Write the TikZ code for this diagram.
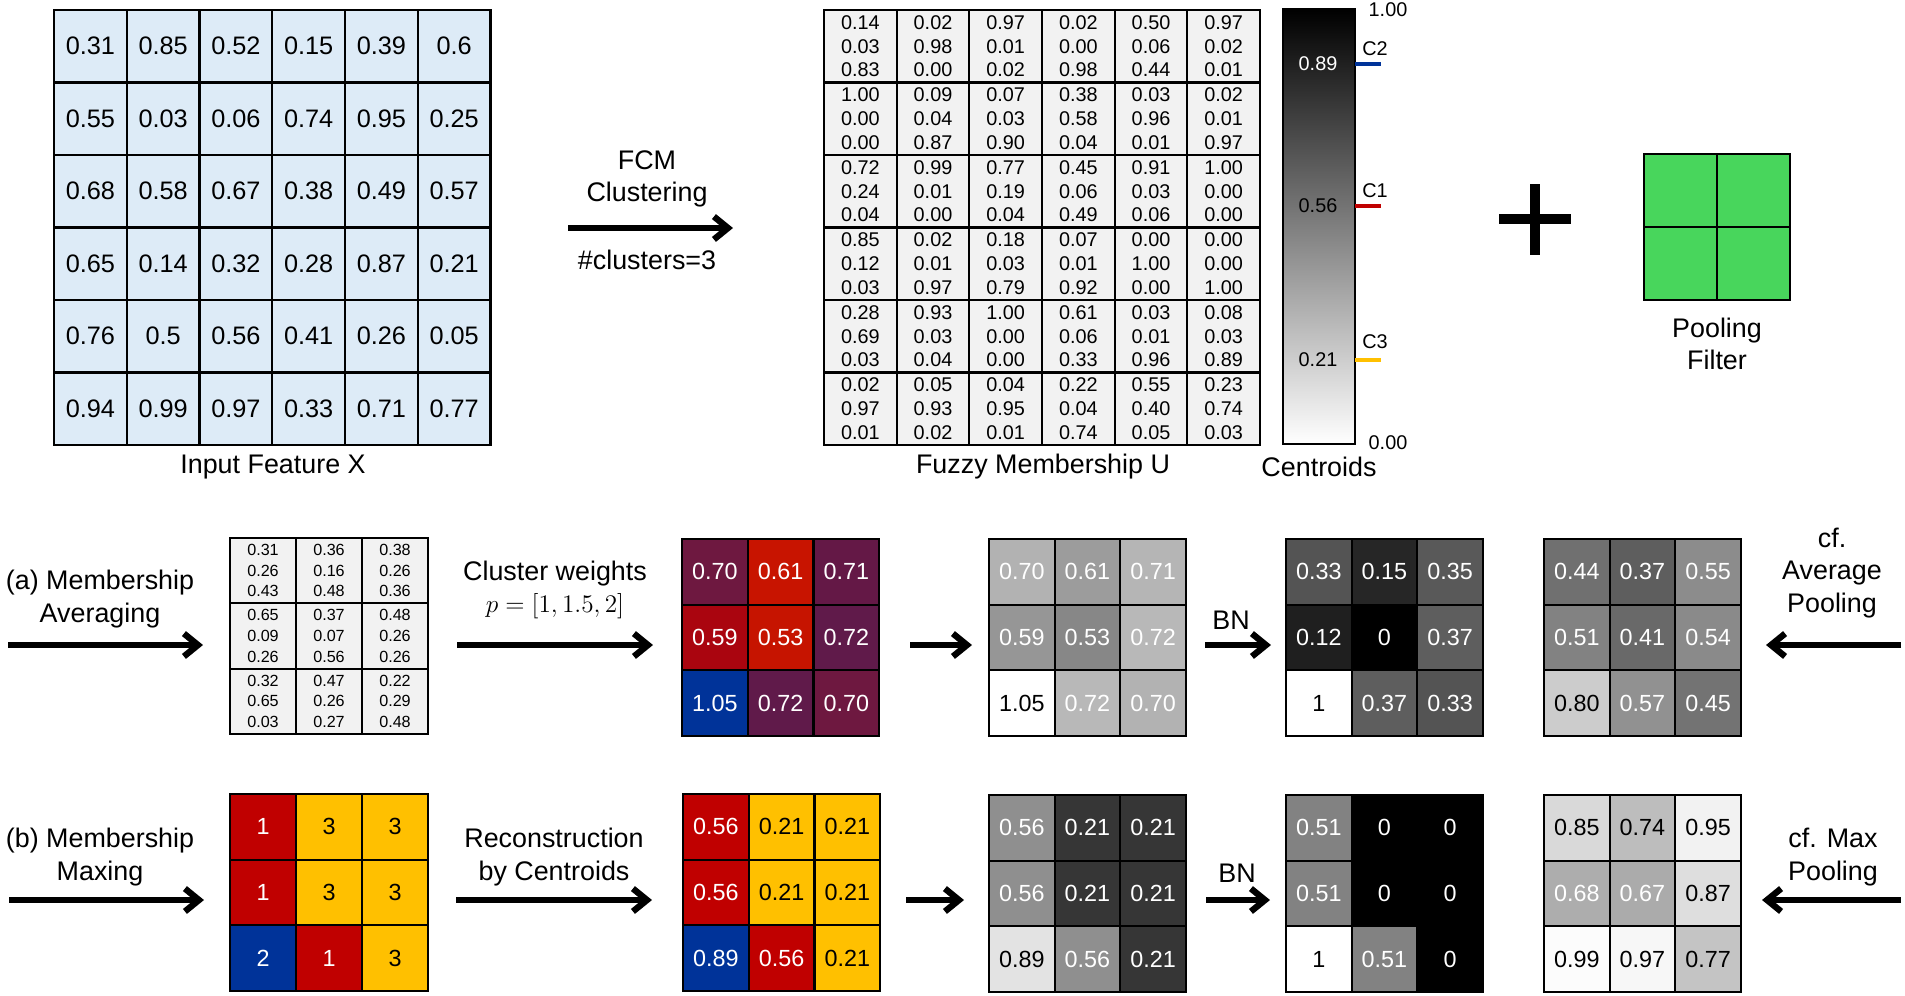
\documentclass[tikz,border=0pt]{standalone}
\usepackage{xcolor}
\usepackage{amsmath}
\usepackage{fontspec}
\setmainfont{Liberation Sans}
\usetikzlibrary{arrows.meta}

\definecolor{xblue}{RGB}{221,235,247}
\definecolor{ugray}{RGB}{242,242,242}
\definecolor{clu1}{RGB}{192,0,0}
\definecolor{clu2}{RGB}{0,51,153}
\definecolor{clu3}{RGB}{255,192,0}
\colorlet{txt1}{white}
\colorlet{txt2}{white}
\colorlet{txt3}{black}
\definecolor{poolgreen}{RGB}{72,214,92}
\definecolor{mixa}{RGB}{110,24,64}
\definecolor{mixb}{RGB}{200,20,0}
\definecolor{mixc}{RGB}{100,24,70}
\definecolor{mixd}{RGB}{170,5,15}
\definecolor{mixe}{RGB}{198,20,0}
\definecolor{mixf}{RGB}{96,26,74}

\tikzset{
  lbl/.style={font=\fontsize{15.3}{18.5}\selectfont, align=center, inner sep=0pt},
  small/.style={font=\fontsize{11.3}{13}\selectfont, inner sep=0pt},
  xcell/.style={draw, line width=1.2pt, fill=xblue, minimum width=1.455cm, minimum height=1.45cm, inner sep=0pt, font=\fontsize{14.4}{16}\selectfont},
  ucell/.style={draw, line width=1.2pt, fill=ugray, minimum width=1.453cm, minimum height=1.45cm, inner sep=0pt, align=center, font=\fontsize{11.3}{13.6}\selectfont},
  mcell/.style={draw, line width=1.2pt, fill=ugray, minimum width=1.32cm, minimum height=1.307cm, inner sep=0pt, align=center, font=\fontsize{9.2}{11.7}\selectfont},
  gcell/.style={draw, line width=1.2pt, minimum width=1.312cm, minimum height=1.314cm, inner sep=0pt, font=\fontsize{13.3}{15}\selectfont},
  fcell/.style={draw, line width=1.3pt, fill=poolgreen, minimum size=1.46cm, inner sep=0pt},
  arr/.style={line width=3.6pt, -{Straight Barb[length=8pt,width=13pt]}},
  tick/.style={line width=2.3pt}
}

\begin{document}
\begin{tikzpicture}[x=0.02cm, y=-0.02cm]
\useasboundingbox (0,0) rectangle (1905,995);

\foreach \row [count=\ri from 0] in {{0.31,0.85,0.52,0.15,0.39,0.6},{0.55,0.03,0.06,0.74,0.95,0.25},{0.68,0.58,0.67,0.38,0.49,0.57},{0.65,0.14,0.32,0.28,0.87,0.21},{0.76,0.5,0.56,0.41,0.26,0.05},{0.94,0.99,0.97,0.33,0.71,0.77}}
  \foreach \v [count=\ci from 0] in \row
    \node[xcell] (x-\ri-\ci) at ({54+72.75*(\ci+0.5)},{10+72.5*(\ri+0.5)}) {\v};
\node[lbl] (inX) at (273,467) {Input Feature X};

\foreach \row [count=\ri from 0] in {{0.14/0.03/0.83,0.02/0.98/0.00,0.97/0.01/0.02,0.02/0.00/0.98,0.50/0.06/0.44,0.97/0.02/0.01},
  {1.00/0.00/0.00,0.09/0.04/0.87,0.07/0.03/0.90,0.38/0.58/0.04,0.03/0.96/0.01,0.02/0.01/0.97},
  {0.72/0.24/0.04,0.99/0.01/0.00,0.77/0.19/0.04,0.45/0.06/0.49,0.91/0.03/0.06,1.00/0.00/0.00},
  {0.85/0.12/0.03,0.02/0.01/0.97,0.18/0.03/0.79,0.07/0.01/0.92,0.00/1.00/0.00,0.00/0.00/1.00},
  {0.28/0.69/0.03,0.93/0.03/0.04,1.00/0.00/0.00,0.61/0.06/0.33,0.03/0.01/0.96,0.08/0.03/0.89},
  {0.02/0.97/0.01,0.05/0.93/0.02,0.04/0.95/0.01,0.22/0.04/0.74,0.55/0.40/0.05,0.23/0.74/0.03}}
  \foreach \ua/\ub/\uc [count=\ci from 0] in \row
    \node[ucell] (u-\ri-\ci) at ({824+72.67*(\ci+0.5)},{10+72.5*(\ri+0.5)}) {\ua\\\ub\\\uc};
\node[lbl] (inU) at (1043,467) {Fuzzy Membership U};

\node[draw, line width=1.2pt, top color=black, bottom color=white, minimum width=1.44cm, minimum height=8.7cm, inner sep=0pt] (cbar) at (1319,226.5) {};
\node[small] (cmax) at (1388,10) {1.00};
\node[small] (cmin) at (1388,443) {0.00};
\coordinate (t2) at (1355,64);
\coordinate (t1) at (1355,206);
\coordinate (t3) at (1355,360);
\draw[tick, clu2] (t2) -- ++(26,0);
\draw[tick, clu1] (t1) -- ++(26,0);
\draw[tick, clu3] (t3) -- ++(26,0);
\node[small] (n2) at (1375,49) {C2};
\node[small] (n1) at (1375,191) {C1};
\node[small] (n3) at (1375,342) {C3};
\node[small, text=white] (v2) at (1318,64) {0.89};
\node[small] (v1) at (1318,206) {0.56};
\node[small] (v3) at (1318,360) {0.21};
\node[lbl] (cent) at (1319,467) {Centroids};

\draw[line width=0.21cm] (1499,219) -- (1571,219);
\draw[line width=0.21cm] (1535,184) -- (1535,255);

\foreach \i in {0,1}
  \foreach \j in {0,1}
    \node[fcell] (f-\i-\j) at ({1644+73*(\j+0.5)},{154+73*(\i+0.5)}) {};
\node[lbl] (filt) at (1717,344) {Pooling\\Filter};

\node[lbl] (fcm) at (647,179) {FCM\\Clustering};
\node[lbl] (ncl) at (647,260) {\#clusters=3};
\coordinate (fcmS) at (568,228);
\coordinate (fcmE) at (733,228);
\draw[arr] (fcmS) -- (fcmE);

\node[lbl] (lblA) at (100,599) {(a) Membership\\Averaging};
\node[lbl] (lblW) at (555,590) {Cluster weights\\$p=[1,1.5,2]$};
\node[lbl] (bnA) at (1231,620) {BN};
\node[lbl] (cfA) at (1832,573) {cf.\\Average\\Pooling};
\node[lbl] (lblB) at (100,857) {(b) Membership\\Maxing};
\node[lbl] (lblR) at (554,857) {Reconstruction\\by Centroids};
\node[lbl] (bnB) at (1237,873) {BN};
\node[lbl] (cfB) at (1833,857) {cf. Max\\Pooling};

\foreach \ua/\ub/\uc [count=\i from 0] in {0.31/0.26/0.43,0.36/0.16/0.48,0.38/0.26/0.36,0.65/0.09/0.26,0.37/0.07/0.56,0.48/0.26/0.26,0.32/0.65/0.03,0.47/0.26/0.27,0.22/0.29/0.48} {
  \pgfmathtruncatemacro\ri{\i/3}
  \pgfmathtruncatemacro\ci{mod(\i,3)}
  \node[mcell] (m-\ri-\ci) at ({230+66*(\ci+0.5)},{538+65.3*(\ri+0.5)}) {\ua\\\ub\\\uc};
}

\foreach \v/\f [count=\i from 0] in {0.70/mixa,0.61/mixb,0.71/mixc,0.59/mixd,0.53/mixe,0.72/mixf,1.05/clu2,0.72/mixf,0.70/mixa} {
  \pgfmathtruncatemacro\ri{\i/3}
  \pgfmathtruncatemacro\ci{mod(\i,3)}
  \node[gcell, fill=\f, text=white] (w-\ri-\ci) at ({682+65.7*(\ci+0.5)},{539+65.7*(\ri+0.5)}) {\v};
}

\foreach \k [count=\i from 0] in {1,3,3,1,3,3,2,1,3} {
  \pgfmathtruncatemacro\ri{\i/3}
  \pgfmathtruncatemacro\ci{mod(\i,3)}
  \node[gcell, fill=clu\k, text=txt\k] (k-\ri-\ci) at ({230+66*(\ci+0.5)},{794+65.7*(\ri+0.5)}) {\k};
}

\foreach \k/\v [count=\i from 0] in {1/0.56,3/0.21,3/0.21,1/0.56,3/0.21,3/0.21,2/0.89,1/0.56,3/0.21} {
  \pgfmathtruncatemacro\ri{\i/3}
  \pgfmathtruncatemacro\ci{mod(\i,3)}
  \node[gcell, fill=clu\k, text=txt\k] (r-\ri-\ci) at ({683+65.7*(\ci+0.5)},{794+65.7*(\ri+0.5)}) {\v};
}

\foreach \nm/\xo/\yo/\vals in {ga/989/539/{0.70,0.61,0.71,0.59,0.53,0.72,1.05,0.72,0.70},
    gaBN/1286/539/{0.33,0.15,0.35,0.12,0,0.37,1,0.37,0.33},
    gaAvg/1544/539/{0.44,0.37,0.55,0.51,0.41,0.54,0.80,0.57,0.45},
    gb/989/795/{0.56,0.21,0.21,0.56,0.21,0.21,0.89,0.56,0.21},
    gbBN/1286/795/{0.51,0,0,0.51,0,0,1,0.51,0},
    gbMax/1544/795/{0.85,0.74,0.95,0.68,0.67,0.87,0.99,0.97,0.77}}
  \foreach \v [count=\i from 0] in \vals {
    \pgfmathtruncatemacro\ri{\i/3}
    \pgfmathtruncatemacro\ci{mod(\i,3)}
    \pgfmathsetmacro\g{min(100,100*\v)}
    \ifdim\v pt<0.73pt \def\tc{white}\else\def\tc{black}\fi
    \node[gcell, fill=white!\g!black, text=\tc] (\nm-\ri-\ci) at ({\xo+65.6*(\ci+0.5)},{\yo+65.7*(\ri+0.5)}) {\v};
  }

\coordinate (a0s) at (8,645);    \coordinate (a0e) at (203,645);
\coordinate (a1s) at (457,645);  \coordinate (a1e) at (653,645);
\coordinate (a2s) at (910,645);  \coordinate (a2e) at (972,645);
\coordinate (a3s) at (1205,645); \coordinate (a3e) at (1271,645);
\coordinate (a4s) at (1901,645); \coordinate (a4e) at (1766,645);
\coordinate (b0s) at (9,900);    \coordinate (b0e) at (204,900);
\coordinate (b1s) at (456,900);  \coordinate (b1e) at (652,900);
\coordinate (b2s) at (906,900);  \coordinate (b2e) at (964,900);
\coordinate (b3s) at (1206,900); \coordinate (b3e) at (1270,900);
\coordinate (b4s) at (1901,900); \coordinate (b4e) at (1762,900);
\foreach \p in {a0,a1,a2,a3,a4,b0,b1,b2,b3,b4}
  \draw[arr] (\p s) -- (\p e);
\end{tikzpicture}
\end{document}
